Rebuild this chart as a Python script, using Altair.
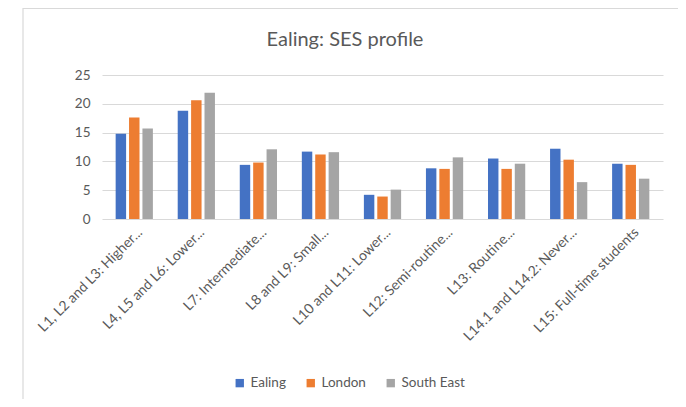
import altair as alt
import pandas as pd

categories = [
    "L1, L2 and L3: Higher...",
    "L4, L5 and L6: Lower...",
    "L7: Intermediate...",
    "L8 and L9: Small...",
    "L10 and L11: Lower...",
    "L12: Semi-routine...",
    "L13: Routine...",
    "L14.1 and L14.2: Never...",
    "L15: Full-time students",
]
series = ["Ealing", "London", "South East"]
ealing = [14.8, 18.8, 9.4, 11.7, 4.2, 8.8, 10.5, 12.2, 9.6]
london = [17.6, 20.6, 9.8, 11.2, 3.9, 8.7, 8.7, 10.3, 9.4]
south_east = [15.7, 21.9, 12.1, 11.6, 5.1, 10.7, 9.6, 6.4, 7.0]
colors = ["#4472C4", "#ED7D31", "#A5A5A5"]
y_ticks = [0, 5, 10, 15, 20, 25]
title_text = "Ealing: SES profile"

rows = []
for name, vals in zip(series, [ealing, london, south_east]):
    for c, v in zip(categories, vals):
        rows.append({"category": c, "series": name, "value": v})
df = pd.DataFrame(rows)

FONT = "Lato"
GRAY = "#595959"

bars = alt.Chart(df).mark_bar().encode(
    x=alt.X("category:N", sort=categories,
            scale=alt.Scale(paddingInner=0.4, paddingOuter=0.22),
            axis=alt.Axis(title=None, labelAngle=-45, labelAlign="right",
                          labelBaseline="middle", labelFontSize=14,
                          labelColor=GRAY, labelFont=FONT, ticks=False,
                          domain=False, labelPadding=11, labelOffset=6,
                          labelLimit=300)),
    xOffset=alt.XOffset("series:N", sort=series,
                        scale=alt.Scale(paddingInner=0.22)),
    y=alt.Y("value:Q", scale=alt.Scale(domain=[0, 25], nice=False),
            axis=alt.Axis(title=None, values=y_ticks, grid=True,
                          gridColor="#d9d9d9", gridWidth=1.2,
                          domain=False, ticks=False, labelFontSize=13.5,
                          labelColor=GRAY, labelFont=FONT, labelPadding=12)),
    color=alt.Color("series:N", sort=series,
                    scale=alt.Scale(domain=series, range=colors),
                    legend=alt.Legend(title=None, orient="none",
                                      direction="horizontal",
                                      legendX=131, legendY=301,
                                      symbolType="square", symbolSize=70,
                                      symbolStrokeWidth=0,
                                      labelFontSize=13.5, labelColor=GRAY,
                                      labelFont=FONT, columnPadding=18,
                                      labelOffset=4)),
)

one_row = alt.Data(values=[{"t": title_text}])

border = alt.Chart(one_row).mark_rect(
    fill=None, stroke="#d9d9d9", strokeWidth=1.2
).encode(
    x=alt.value(-79), x2=alt.value(580),
    y=alt.value(-66.5), y2=alt.value(340),
)

title = alt.Chart(one_row).mark_text(
    font=FONT, fontSize=20, color=GRAY, align="center", baseline="middle"
).encode(
    text="t:N", x=alt.value(243), y=alt.value(-35),
)

chart = alt.layer(border, bars, title).properties(
    width=561, height=144,
    autosize=alt.AutoSizeParams(type="none"),
    padding={"left": 94, "top": 67, "right": 15, "bottom": 180},
).configure_view(stroke=None)

chart.save("out.html", embed_options={"renderer": "svg", "actions": False})
